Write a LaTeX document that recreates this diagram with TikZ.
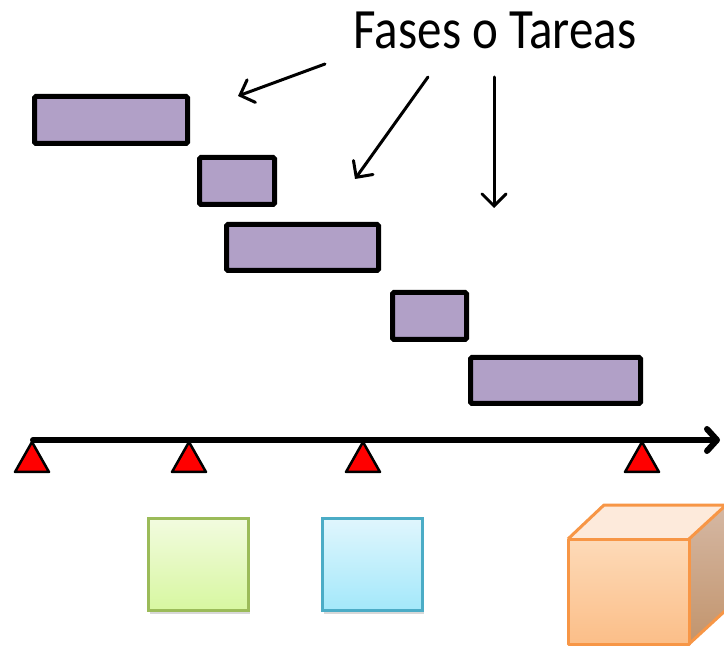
\documentclass[tikz,border=0pt]{standalone}
\usepackage{fontspec}
\setmainfont{Carlito}
\newfontfamily\titlefont[FakeStretch=0.86]{Carlito}
\usetikzlibrary{arrows.meta,shadows}
\definecolor{barfill}{HTML}{B1A0C7}
\definecolor{grnT}{HTML}{F2FBDF}
\definecolor{grnB}{HTML}{D7F7A0}
\definecolor{grnD}{HTML}{9BBB59}
\definecolor{bluT}{HTML}{E0F6FD}
\definecolor{bluB}{HTML}{A3E8FA}
\definecolor{bluD}{HTML}{4BACC6}
\definecolor{orT}{HTML}{FDDAB8}
\definecolor{orB}{HTML}{FBBE88}
\definecolor{orTop}{HTML}{FDEADB}
\definecolor{orSideT}{HTML}{D5B8A4}
\definecolor{orSideB}{HTML}{C2946C}
\definecolor{orD}{HTML}{F79646}
\tikzset{
  bar/.style={draw=black, line width=5pt, fill=barfill, rounded corners=1.5pt, inner sep=0pt},
  pointer/.style={line width=3pt, line cap=round, -{Straight Barb[length=12pt,width=24pt,line cap=round]}},
  axis/.style={line width=6pt, line cap=round, -{Straight Barb[length=10pt,width=22pt,line cap=round,line join=round]}},
  milestone/.style={fill=red, draw=black, line width=2.5pt, line join=round},
  sq/.style={line width=3pt, inner sep=0pt, minimum width=100pt, minimum height=92pt,
    drop shadow={shadow xshift=1pt, shadow yshift=-3pt, opacity=0.3}},
  cube/.style={draw=orD, line width=3pt, line join=round}
}
\begin{document}
\begin{tikzpicture}[x=1pt,y=-1pt]
\fill[white] (0,0) rectangle (724,647);
\useasboundingbox (0,0) rectangle (724,647);

% title
\node[anchor=base, inner sep=0pt, font=\titlefont\fontsize{57}{60}\selectfont] (title) at (495,49) {Fases o Tareas};

% task bars
\node[bar, minimum width=153pt, minimum height=47pt] (b1) at (111,120) {};
\node[bar, minimum width=75pt, minimum height=47pt] (b2) at (237,181) {};
\node[bar, minimum width=152pt, minimum height=46pt] (b3) at (302.5,247.5) {};
\node[bar, minimum width=74pt, minimum height=47pt] (b4) at (429.5,316) {};
\node[bar, minimum width=170pt, minimum height=46pt] (b5) at (555.5,380.5) {};

% pointer arrows
\coordinate (s1) at (325,64);
\coordinate (e1) at (238,96);
\coordinate (s2) at (428,77);
\coordinate (e2) at (355,179);
\coordinate (s3) at (494,77);
\coordinate (e3) at (494,208);
\draw[pointer] (s1) -- (e1);
\draw[pointer] (s2) -- (e2);
\draw[pointer] (s3) -- (e3);

% timeline
\coordinate (a0) at (33,440);
\coordinate (a1) at (720,440);
\draw[axis] (a0) -- (a1);

% milestones
\foreach \x/\n in {32/m1,189/m2,363/m3,642/m4}{
  \coordinate (\n) at (\x,442);
  \draw[milestone] (\n) -- ++(-17,30) -- ++(34,0) -- cycle;
}

% deliverables
\node[sq, draw=grnD, top color=grnT, bottom color=grnB] (g) at (198.5,564.5) {};
\node[sq, draw=bluD, top color=bluT, bottom color=bluB] (bl) at (372.5,564.5) {};

% cube
\coordinate (f1) at (568,539);
\coordinate (f2) at (689,539);
\coordinate (f3) at (689,644);
\coordinate (f4) at (568,644);
\coordinate (k1) at (604,505);
\coordinate (k2) at (726,505);
\coordinate (k3) at (726,610);
\fill[black, opacity=0.12] ([xshift=1pt,yshift=3pt]f1) rectangle ([xshift=1pt,yshift=3pt]f3);
\shade[top color=orT, bottom color=orB] (f1) -- (f2) -- (f3) -- (f4) -- cycle;
\fill[orTop] (f1) -- (k1) -- (k2) -- (f2) -- cycle;
\shade[top color=orSideT, bottom color=orSideB] (f2) -- (k2) -- (k3) -- (f3) -- cycle;
\draw[cube] (f1) -- (f2) -- (f3) -- (f4) -- cycle;
\draw[cube] (f1) -- (k1) -- (k2) -- (f2);
\draw[cube] (k2) -- (k3) -- (f3);
\end{tikzpicture}
\end{document}
